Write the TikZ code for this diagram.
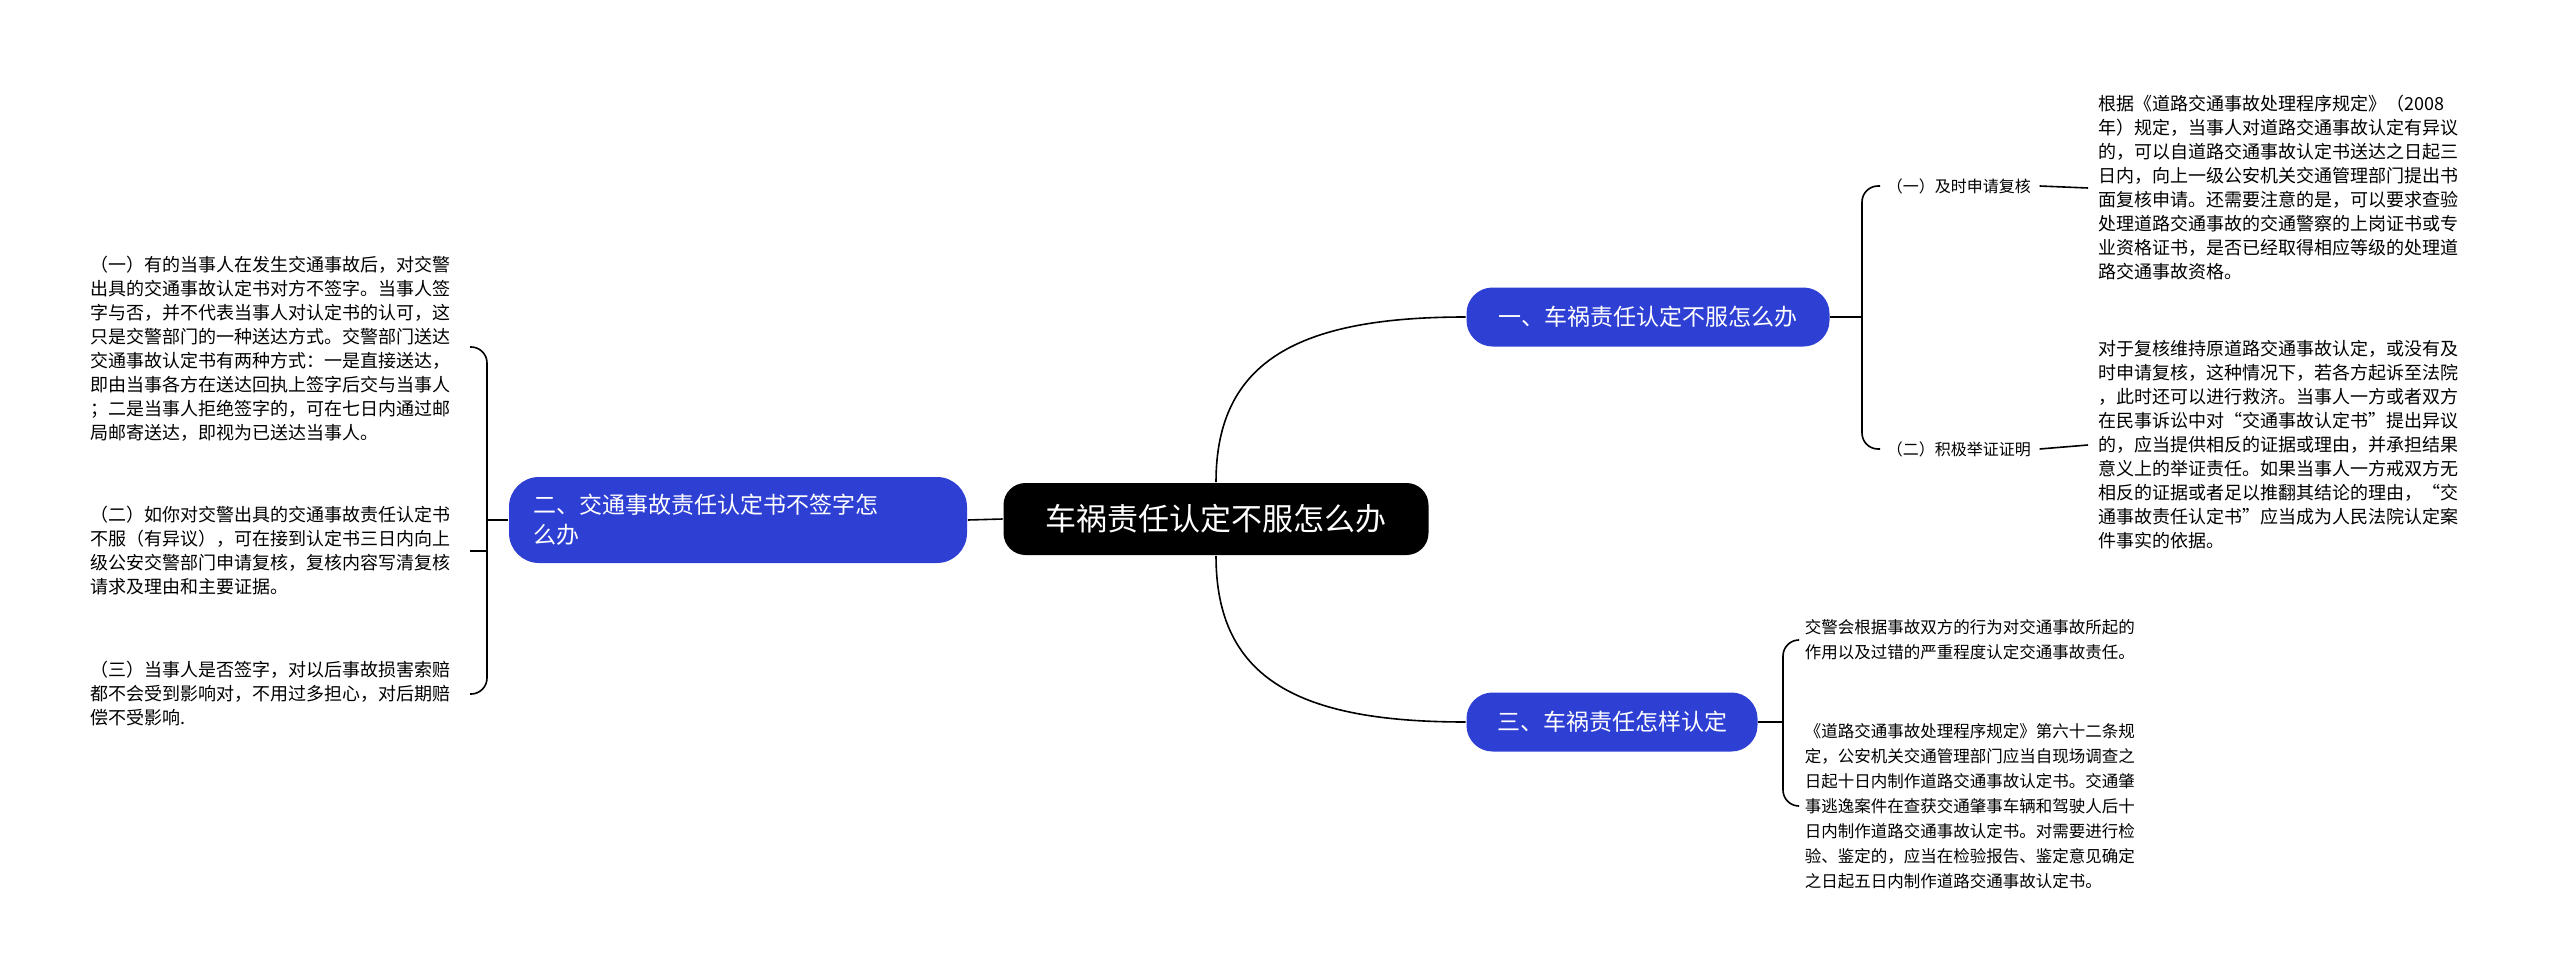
\documentclass[tikz,border=0pt]{standalone}
\usepackage{fontspec}
\setmainfont{Noto Sans CJK SC}
\usepackage{xcolor}
\usetikzlibrary{calc}
\definecolor{topicblue}{HTML}{2E3FD4}

\begin{document}
\begin{tikzpicture}[x=1pt, y=-1pt, line width=1.6pt,
        root/.style={rectangle, rounded corners=22pt, fill=black, text=white,
            minimum width=425pt, minimum height=72pt, font=\fontsize{31}{36}\selectfont},
        topic/.style={rectangle, rounded corners=26pt, fill=topicblue, text=white,
            minimum height=59pt, inner xsep=22pt, font=\fontsize{23}{30}\selectfont},
        sub/.style={inner sep=0pt, anchor=west, font=\fontsize{16}{20}\selectfont},
        para/.style={inner sep=0pt, anchor=west, align=left, font=\fontsize{18}{24}\selectfont},
        small/.style={inner sep=0pt, anchor=west, align=left, font=\fontsize{16.5}{25}\selectfont}]

        \useasboundingbox (0,0) rectangle (2560,979);

        \node[root] (R) at (1216,519) {车祸责任认定不服怎么办};
        \node[topic, minimum width=363pt] (T1) at (1648,317) {一、车祸责任认定不服怎么办};
        \node[topic, minimum width=291pt] (T3) at (1612,722) {三、车祸责任怎样认定};
        \node[topic, minimum width=458pt, minimum height=86pt, rounded corners=30pt,
            align=left, text width=410pt] (T2) at (738,520)
            {二、交通事故责任认定书不签字怎\\么办};

        % left side
        \node[para] (L1) at (90,349) { （一）有的当事人在发生交通事故后，对交警\\出具的交通事故认定书对方不签字。当事人签\\字与否，并不代表当事人对认定书的认可，这\\只是交警部门的一种送达方式。交警部门送达\\交通事故认定书有两种方式：一是直接送达，\\即由当事各方在送达回执上签字后交与当事人\\；二是当事人拒绝签字的，可在七日内通过邮\\局邮寄送达，即视为已送达当事人。};
        \node[para] (L2) at (90,551) { （二）如你对交警出具的交通事故责任认定书\\不服（有异议），可在接到认定书三日内向上\\级公安交警部门申请复核，复核内容写清复核\\请求及理由和主要证据。};
        \node[para] (L3) at (90,694) { （三）当事人是否签字，对以后事故损害索赔\\都不会受到影响对，不用过多担心，对后期赔\\偿不受影响.};

        % right side, first topic
        \node[sub] (S1) at (1886,186) {（一）及时申请复核};
        \node[sub] (S2) at (1886,449) {（二）积极举证证明};
        \node[para] (P1) at (2098,188) {根据《道路交通事故处理程序规定》（2008\\年）规定，当事人对道路交通事故认定有异议\\的，可以自道路交通事故认定书送达之日起三\\日内，向上一级公安机关交通管理部门提出书\\面复核申请。还需要注意的是，可以要求查验\\处理道路交通事故的交通警察的上岗证书或专\\业资格证书，是否已经取得相应等级的处理道\\路交通事故资格。};
        \node[para] (P2) at (2098,445) {对于复核维持原道路交通事故认定，或没有及\\时申请复核，这种情况下，若各方起诉至法院\\，此时还可以进行救济。当事人一方或者双方\\在民事诉讼中对“交通事故认定书”提出异议\\的，应当提供相反的证据或理由，并承担结果\\意义上的举证责任。如果当事人一方戒双方无\\相反的证据或者足以推翻其结论的理由，“交\\通事故责任认定书”应当成为人民法院认定案\\件事实的依据。};

        % right side, third topic
        \node[small] (Q1) at (1804,640) {交警会根据事故双方的行为对交通事故所起的\\作用以及过错的严重程度认定交通事故责任。};
        \node[small] (Q2) at (1804,806) {《道路交通事故处理程序规定》第六十二条规\\定，公安机关交通管理部门应当自现场调查之\\日起十日内制作道路交通事故认定书。交通肇\\事逃逸案件在查获交通肇事车辆和驾驶人后十\\日内制作道路交通事故认定书。对需要进行检\\验、鉴定的，应当在检验报告、鉴定意见确定\\之日起五日内制作道路交通事故认定书。};

        % connectors
        \draw (R.north) .. controls (1216,360) and (1300,317) .. (T1.west);
        \draw (R.south) .. controls (1216,680) and (1300,722) .. (T3.west);
        \draw (R.west) -- (T2.east);

        \draw (T1.east) -- (1862,317);
        \draw[rounded corners=16pt] ([xshift=-6pt]S1.west) -| (1862,317) |- ([xshift=-6pt]S2.west);
        \draw ([xshift=8pt]S1.east) -- ([xshift=-10pt]P1.west);
        \draw ([xshift=8pt]S2.east) -- ([xshift=-10pt]P2.west);

        \draw (T3.east) -- (1783,722);
        \draw[rounded corners=16pt] ([xshift=-6pt]Q1.west) -| (1783,722) |- ([xshift=-6pt]Q2.west);

        \draw (T2.west) -- (487,520);
        \draw[rounded corners=16pt] (470,347) -| (487,520) |- (470,694);
        \draw (470,551) -- (487,551);
\end{tikzpicture}
\end{document}
